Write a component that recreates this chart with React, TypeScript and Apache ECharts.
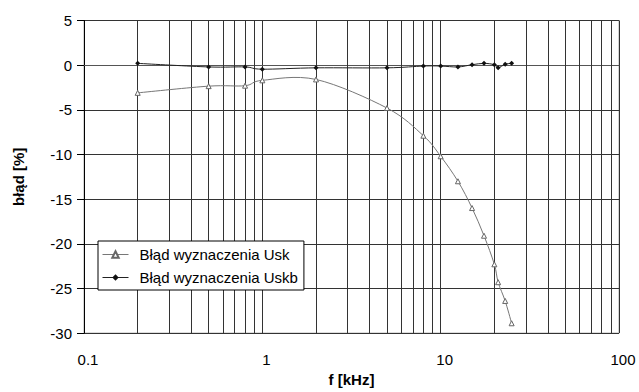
import React, { useEffect, useRef } from "react";
import * as echarts from "echarts";

const freqUsk = [0.2, 0.5, 0.8, 1, 2, 5, 8, 10, 12.5, 15, 17.5, 20, 21, 23, 25];
const valUsk = [-3.1, -2.35, -2.3, -1.7, -1.6, -4.8, -7.9, -10.2, -13.0, -16.0, -19.1, -22.3, -24.3, -26.4, -28.9];

const freqUskb = [0.2, 0.5, 0.8, 1, 2, 5, 8, 10, 12.5, 15, 17.5, 20, 21, 23, 25];
const valUskb = [0.2, -0.2, -0.2, -0.45, -0.3, -0.3, -0.1, -0.1, -0.2, 0.05, 0.2, 0.05, -0.3, 0.1, 0.2];

const minorGrid = [0.2, 0.3, 0.4, 0.5, 0.6, 0.7, 0.8, 0.9, 2, 3, 4, 5, 6, 7, 8, 9, 20, 30, 40, 50, 60, 70, 80, 90];

const seriesNames = ["Błąd wyznaczenia Usk", "Błąd wyznaczenia Uskb"];

const FONT = "Liberation Sans, Arial, sans-serif";

function smoothPath(pts: number[][]): string {
  const f = (p: number[]) => `${p[0].toFixed(2)} ${p[1].toFixed(2)}`;
  let d = `M ${f(pts[0])}`;
  for (let i = 0; i < pts.length - 1; i++) {
    const p0 = pts[i - 1] || pts[i];
    const p1 = pts[i];
    const p2 = pts[i + 1];
    const p3 = pts[i + 2] || p2;
    const c1 = [p1[0] + (p2[0] - p0[0]) / 6, p1[1] + (p2[1] - p0[1]) / 6];
    const c2 = [p2[0] - (p3[0] - p1[0]) / 6, p2[1] - (p3[1] - p1[1]) / 6];
    d += ` C ${f(c1)} ${f(c2)} ${f(p2)}`;
  }
  return d;
}

function curveSeries(freqs: number[], vals: number[], color: string, z: number) {
  return {
    type: "custom",
    name: "curve" + z,
    silent: true,
    z,
    data: [[freqs[0], vals[0]]],
    encode: { x: 0, y: 1 },
    renderItem: (params: any, api: any) => {
      const pts = freqs.map((fq, i) => api.coord([fq, vals[i]]));
      return {
        type: "path",
        shape: { pathData: smoothPath(pts) },
        style: { stroke: color, fill: "none", lineWidth: 1 },
      };
    },
  };
}

export default function App() {
  const ref = useRef<HTMLDivElement>(null);
  useEffect(() => {
    if (!ref.current) return;
    const chart = echarts.init(ref.current, undefined, { renderer: "svg" });
    chart.setOption({
      animation: false,
      backgroundColor: "#ffffff",
      textStyle: { fontFamily: FONT },
      grid: { left: 84, right: 20, top: 20.5, bottom: 53.5, show: true, borderColor: "#aaaaaa", borderWidth: 1 },
      legend: {
        orient: "vertical",
        left: 98,
        top: 241,
        borderColor: "#000",
        borderWidth: 1,
        borderRadius: 0,
        backgroundColor: "#fff",
        padding: [6, 6, 5, 4],
        itemGap: 8,
        itemWidth: 26,
        itemHeight: 8,
        textStyle: { fontSize: 15, color: "#000", fontFamily: FONT, padding: [0, 0, 0, 6] },
        data: [
          { name: seriesNames[0], lineStyle: { color: "#777", width: 1, opacity: 1 } },
          { name: seriesNames[1], lineStyle: { color: "#222", width: 1, opacity: 1 } },
        ],
      },
      xAxis: {
        type: "log",
        logBase: 10,
        min: 0.1,
        max: 100,
        interval: 1,
        name: "f [kHz]",
        nameLocation: "middle",
        nameGap: 36,
        nameTextStyle: { fontSize: 15, fontWeight: "bold", color: "#000", fontFamily: FONT },
        axisLine: { show: true, lineStyle: { color: "#555", width: 1 } },
        axisTick: { show: false },
        axisLabel: {
          fontSize: 15,
          color: "#000",
          margin: 19,
          padding: [0, 0, 0, 8],
          fontFamily: FONT,
          formatter: (v: number) => (v < 1 ? String(Number(v.toFixed(1))) : String(Math.round(v))),
        },
        splitLine: { show: true, lineStyle: { color: "#333", width: 1 } },
      },
      yAxis: {
        type: "value",
        min: -30,
        max: 5,
        interval: 5,
        name: "błąd [%]",
        nameLocation: "middle",
        nameGap: 58,
        nameRotate: 90,
        nameTextStyle: { fontSize: 15, fontWeight: "bold", color: "#000", fontFamily: FONT },
        axisLine: { show: true, lineStyle: { color: "#000", width: 1 } },
        axisTick: { show: true, inside: false, length: 7, lineStyle: { color: "#000" } },
        axisLabel: { fontSize: 15, color: "#000", margin: 12, fontFamily: FONT },
        splitLine: { show: true, lineStyle: { color: "#333", width: 1 } },
      },
      series: [
        {
          name: seriesNames[0],
          type: "line",
          data: freqUsk.map((f, i) => [f, valUsk[i]]),
          symbol: "triangle",
          symbolSize: 5,
          itemStyle: { color: "#fff", borderColor: "#666", borderWidth: 1 },
          lineStyle: { color: "#777", width: 1, opacity: 0 },
          z: 7,
          markLine: {
            silent: true,
            symbol: "none",
            label: { show: false },
            lineStyle: { color: "#333", width: 1, type: "solid" },
            data: minorGrid.map((v) => ({ xAxis: v })),
            z: 1,
          },
        },
        {
          name: seriesNames[1],
          type: "line",
          data: freqUskb.map((f, i) => [f, valUskb[i]]),
          symbol: "diamond",
          symbolSize: 5,
          itemStyle: { color: "#111" },
          lineStyle: { color: "#222", width: 1, opacity: 0 },
          z: 8,
        },
        curveSeries(freqUsk, valUsk, "#777", 5),
        curveSeries(freqUskb, valUskb, "#222", 6),
      ],
    });
    return () => chart.dispose();
  }, []);
  return <div ref={ref} style={{ width: 639, height: 392, position: "absolute", left: 0, top: 0 }} />;
}
